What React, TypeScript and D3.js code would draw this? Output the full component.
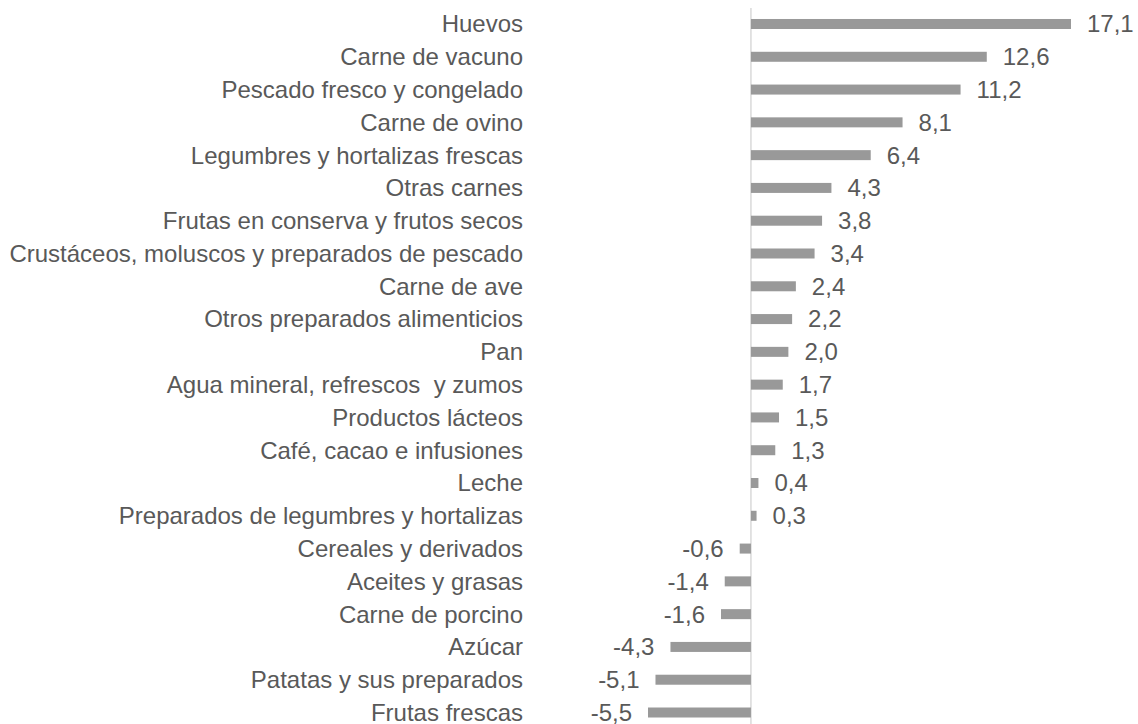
import { useEffect, useRef } from 'react'
import * as d3 from 'd3'

const categories = [
  'Huevos',
  'Carne de vacuno',
  'Pescado fresco y congelado',
  'Carne de ovino',
  'Legumbres y hortalizas frescas',
  'Otras carnes',
  'Frutas en conserva y frutos secos',
  'Crustáceos, moluscos y preparados de pescado',
  'Carne de ave',
  'Otros preparados alimenticios',
  'Pan',
  'Agua mineral, refrescos  y zumos',
  'Productos lácteos',
  'Café, cacao e infusiones',
  'Leche',
  'Preparados de legumbres y hortalizas',
  'Cereales y derivados',
  'Aceites y grasas',
  'Carne de porcino',
  'Azúcar',
  'Patatas y sus preparados',
  'Frutas frescas',
]

const values = [17.1, 12.6, 11.2, 8.1, 6.4, 4.3, 3.8, 3.4, 2.4, 2.2, 2.0, 1.7, 1.5, 1.3, 0.4, 0.3, -0.6, -1.4, -1.6, -4.3, -5.1, -5.5]

const width = 1138
const height = 724

export default function App() {
  const svgRef = useRef<SVGSVGElement>(null)

  useEffect(() => {
    if (!svgRef.current) return
    const svg = d3.select(svgRef.current)
    svg.selectAll('*').remove()

    const rows = categories.map((name, i) => ({ name, value: values[i] }))

    const x = d3.scaleLinear().domain([-5.5, 17.1]).range([648, 1071])
    const y = d3.scaleBand<string>()
      .domain(categories)
      .range([7.6, 728.9])
      .paddingInner(0.695)
      .paddingOuter(0.3475)

    const font = 'Arial, "Liberation Sans", sans-serif'
    const textColor = '#595959'

    // zero axis
    svg.append('line')
      .attr('x1', x(0)).attr('x2', x(0))
      .attr('y1', 8).attr('y2', height)
      .attr('stroke', '#d9d9d9')
      .attr('stroke-width', 1.5)

    svg.selectAll('rect.bar')
      .data(rows)
      .enter().append('rect')
      .attr('class', 'bar')
      .attr('x', d => Math.min(x(0), x(d.value)))
      .attr('width', d => Math.abs(x(d.value) - x(0)))
      .attr('y', d => y(d.name)!)
      .attr('height', y.bandwidth())
      .attr('fill', '#999999')

    // category labels
    svg.selectAll('text.cat')
      .data(rows)
      .enter().append('text')
      .attr('class', 'cat')
      .attr('x', 523)
      .attr('y', d => y(d.name)! + y.bandwidth() / 2)
      .attr('dy', '0.35em')
      .attr('text-anchor', 'end')
      .style('font-family', font)
      .style('font-size', '24px')
      .style('white-space', 'pre')
      .style('fill', textColor)
      .text(d => d.name)

    // value labels
    svg.selectAll('text.val')
      .data(rows)
      .enter().append('text')
      .attr('class', 'val')
      .attr('x', d => d.value >= 0 ? x(d.value) + 16 : x(d.value) - 16)
      .attr('y', d => y(d.name)! + y.bandwidth() / 2)
      .attr('dy', '0.35em')
      .attr('text-anchor', d => d.value >= 0 ? 'start' : 'end')
      .style('font-family', font)
      .style('font-size', '24px')
      .style('fill', textColor)
      .text(d => d3.format('.1f')(d.value).replace('.', ',').replace('−', '-'))
  }, [])

  return (
    <svg
      ref={svgRef}
      width={width}
      height={height}
      style={{ position: 'absolute', left: 0, top: 0, background: '#fff' }}
    />
  )
}
